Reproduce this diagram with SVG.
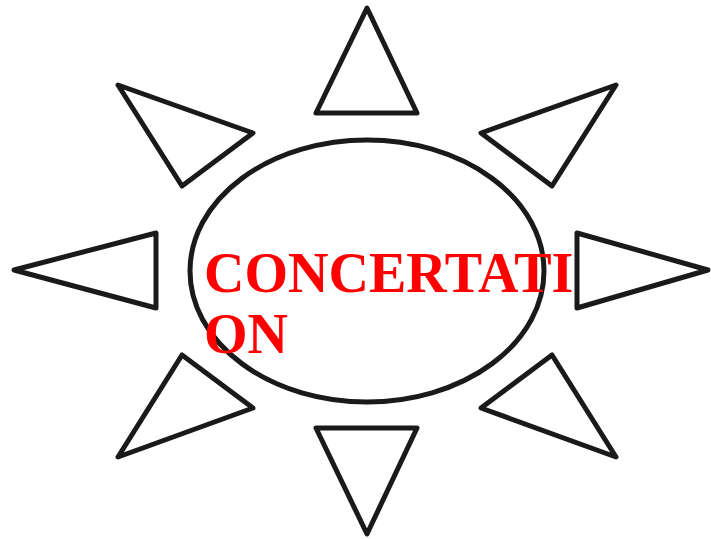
<svg xmlns="http://www.w3.org/2000/svg" width="711" height="539" viewBox="0 0 711 539">
<style>
.s{fill:none;stroke:#1a1a1a;stroke-width:5;stroke-linejoin:round}
.t{font-family:"Liberation Serif","Times New Roman",serif;font-weight:bold;font-size:56px;fill:#ff0000}
</style>
<rect width="711" height="539" fill="#fff"/>
<g id="rays">
<polygon class="s" points="367,8 316,113 417,113"/>
<polygon class="s" points="367,534 316,428 417,428"/>
<polygon class="s" points="14,270 156,233 156,308"/>
<polygon class="s" points="708,270 577,233 577,308"/>
<polygon class="s" points="118,85 253,133 182,186"/>
<polygon class="s" points="616,85 481,133 552,186"/>
<polygon class="s" points="118,457 253,408 182,355"/>
<polygon class="s" points="616,457 481,408 552,355"/>
</g>
<g id="center">
<ellipse class="s" cx="367" cy="271" rx="177" ry="131"/>
<text class="t" x="204" y="292">CONCERTATI</text>
<text class="t" x="204" y="353">ON</text>
</g>
</svg>
